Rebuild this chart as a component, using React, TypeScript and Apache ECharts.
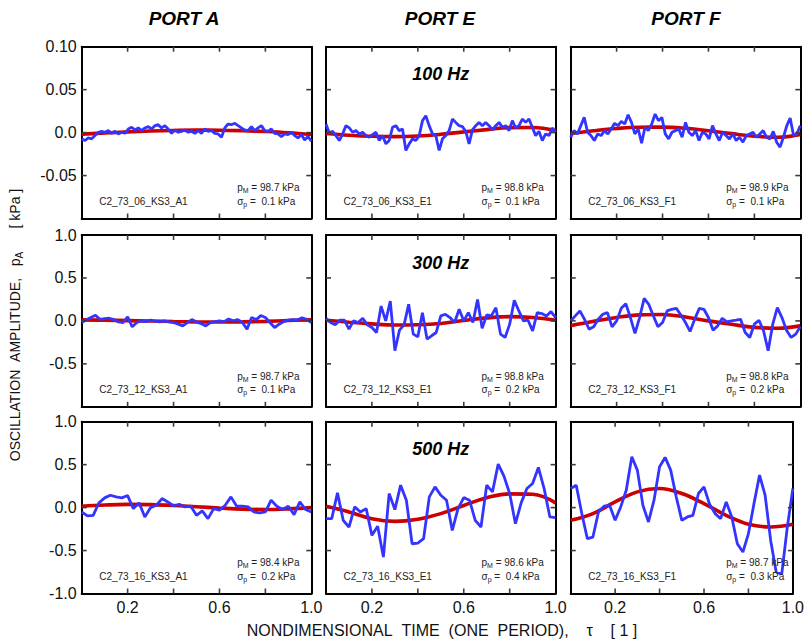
import React, { useEffect, useRef } from "react";
import * as echarts from "echarts";

// ---------------- text content ----------------
const portTitles = ["PORT A", "PORT E", "PORT F"];
const frequencyLabels = ["100 Hz", "300 Hz", "500 Hz"];
const runIdsRow1 = ["C2_73_06_KS3_A1", "C2_73_06_KS3_E1", "C2_73_06_KS3_F1"];
const runIdsRow2 = ["C2_73_12_KS3_A1", "C2_73_12_KS3_E1", "C2_73_12_KS3_F1"];
const runIdsRow3 = ["C2_73_16_KS3_A1", "C2_73_16_KS3_E1", "C2_73_16_KS3_F1"];
const meanPressureRow1 = ["98.7", "98.8", "98.9"];
const meanPressureRow2 = ["98.7", "98.8", "98.8"];
const meanPressureRow3 = ["98.4", "98.6", "98.7"];
const sigmaRow1 = ["0.1", "0.1", "0.1"];
const sigmaRow2 = ["0.1", "0.2", "0.2"];
const sigmaRow3 = ["0.2", "0.4", "0.3"];

// ---------------- tick labels and tick positions ----------------
const xTickValues = [0.2, 0.6, 1.0];
const xTickLabels = ["0.2", "0.6", "1.0"];
const xTickMarks = [0.2, 0.4, 0.6, 0.8];
const yTickValuesRow1 = [-0.05, 0, 0.05, 0.1];
const yTickLabelsRow1 = ["-0.05", "0.0", "0.05", "0.10"];
const yTickValuesRow2 = [-0.5, 0, 0.5, 1.0];
const yTickLabelsRow2 = ["-0.5", "0.0", "0.5", "1.0"];
const yTickValuesRow3 = [-1.0, -0.5, 0, 0.5, 1.0];
const yTickLabelsRow3 = ["-1.0", "-0.5", "0.0", "0.5", "1.0"];
const yTickMarksRow1 = [-0.05, 0, 0.05];
const yTickMarksRow23 = [-0.5, 0, 0.5];

// ---------------- measured signals (blue), kPa, uniform in tau over [0,1] ----------------
const blueA1 = [-0.0073,-0.0092,-0.0062,-0.0073,-0.0035,0.0004,0.0015,0.0004,0.0023,-0.0008,
0.0015,-0.0015,0.0004,-0.0008,0.0042,0.0062,0.0031,0.0054,0.0023,0.0054,
0.0069,0.0042,0.0081,0.0092,0.0054,0.0081,0.0042,-0.0008,0.0031,0.0004,
0.0015,0.0031,0.0004,0.0015,-0.0008,0.0023,-0.0008,0.0042,0.0015,0.0023,
-0.0008,-0.0015,-0.0054,0.0054,0.0100,0.0092,0.0108,0.0081,0.0054,0.0031,
0.0023,0.0069,0.0023,0.0054,0.0081,0.0023,0.0015,0.0042,-0.0008,-0.0015,
-0.0046,-0.0015,-0.0023,0.0004,-0.0035,-0.0062,-0.0023,-0.0085,-0.0046,-0.0100];
const blueE1 = [0.0100,-0.0008,0.0015,-0.0035,-0.0092,-0.0015,0.0081,0.0054,0.0004,0.0023,
-0.0015,0.0004,-0.0035,-0.0054,-0.0023,0.0004,-0.0092,-0.0035,-0.0131,-0.0092,
0.0062,0.0081,0.0023,0.0042,-0.0208,-0.0131,-0.0073,-0.0092,-0.0035,0.0139,
0.0196,0.0081,-0.0015,-0.0035,-0.0208,-0.0073,-0.0035,0.0023,0.0158,0.0119,
0.0081,0.0069,0.0015,-0.0131,0.0031,0.0081,0.0119,0.0081,0.0119,0.0081,
0.0031,0.0081,0.0119,0.0062,0.0081,0.0023,0.0139,0.0054,0.0081,0.0158,
0.0119,0.0158,0.0062,-0.0035,0.0015,-0.0092,-0.0015,-0.0035,0.0054,0.0004];
const blueF1 = [-0.0054,0.0023,-0.0015,0.0081,0.0177,0.0004,-0.0035,-0.0092,-0.0015,-0.0035,
0.0023,-0.0015,0.0042,0.0108,0.0081,0.0131,0.0100,0.0208,0.0119,-0.0015,
0.0042,-0.0123,0.0062,0.0023,0.0100,0.0216,0.0139,0.0177,-0.0015,-0.0073,
0.0004,0.0023,0.0042,-0.0054,0.0119,0.0004,-0.0035,0.0023,-0.0092,0.0004,
-0.0015,-0.0073,0.0081,-0.0015,-0.0092,0.0004,-0.0035,-0.0073,-0.0015,-0.0092,
-0.0054,-0.0112,-0.0035,-0.0015,0.0004,-0.0054,-0.0015,0.0023,-0.0054,-0.0073,
0.0015,-0.0112,-0.0169,-0.0054,0.0081,0.0169,-0.0035,-0.0015,0.0081];
const blueA2 = [-0.019,0.012,0.039,0.065,0.019,0.027,0.031,0.015,-0.012,-0.019,
0.046,-0.069,-0.019,0,-0.008,0.008,-0.004,-0.012,0,-0.012,
-0.019,-0.038,-0.058,-0.019,0.015,-0.012,-0.031,-0.058,-0.019,-0.008,
0,-0.008,0.023,0,0.015,-0.019,-0.096,0.039,0.015,0.062,
0.039,-0.019,-0.077,-0.038,-0.008,0.008,0.015,0.012,0.035,0.019,
-0.019];
const blueE2 = [0.031,-0.019,-0.046,0.008,0.008,-0.096,0,-0.019,0.031,-0.046,
-0.077,-0.135,0.173,0,0.231,-0.347,-0.108,-0.046,0.193,-0.154,
-0.185,0.096,-0.212,-0.173,-0.135,0.058,0.077,0.039,-0.019,0.135,
0,0.096,-0.019,0.25,-0.085,0.069,0.058,0.154,-0.154,-0.193,
-0.038,0.239,0.116,0,0.008,-0.116,0.096,0.085,0.058,0.108,
0.039];
const blueF2 = [0,0.058,0.116,0.019,-0.096,-0.069,0.019,0.077,0.096,-0.069,
0,0.146,0.2,0.039,-0.146,0.039,0.262,0.193,0.058,-0.069,
-0.019,0.116,0.135,0.146,0.069,-0.019,-0.123,0.019,0.146,0.135,
0.039,-0.108,-0.058,0.031,-0.012,0,0.008,0.019,-0.135,-0.193,
-0.038,0.008,-0.116,-0.347,-0.038,0.154,0.039,-0.108,-0.193,-0.154,
-0.069];
const blueA3 = [-0.051,-0.097,-0.09,0.055,0.113,0.144,0.125,0.113,0.14,-0.012,
0.055,-0.109,0,0.027,0.105,0.066,0.019,0.039,0.008,0.016,
-0.09,-0.039,-0.128,-0.012,-0.031,0.027,0.125,0.016,0.016,0.008,
-0.051,-0.062,-0.051,0.086,0.016,-0.023,0.016,-0.082,0.066,-0.023,
-0.051];
const blueE3 = [-0.128,-0.128,0.171,-0.148,-0.226,0.008,-0.051,-0.012,-0.323,-0.218,
-0.576,0.164,-0.023,0.261,0.086,-0.421,-0.413,-0.362,0.125,0.241,
0.144,0.086,-0.265,-0.012,0.117,0.086,-0.148,-0.226,0.261,0.183,
0.506,0.366,0.164,-0.187,0.055,0.222,0.28,0.467,0.222,-0.109,
-0.117];
const blueF3 = [0.222,0.261,-0.07,-0.362,-0.343,-0.051,0.016,0.027,-0.148,0.008,
0.202,0.592,0.436,0.027,-0.167,0.086,0.475,0.584,0.436,0.125,
-0.148,-0.109,-0.09,0.164,0.241,0.039,-0.07,-0.128,0.066,-0.109,
-0.421,-0.518,-0.304,0.047,0.378,0.144,-0.382,-0.752,-0.771,-0.226,
0.222];

// ---------------- first-harmonic fits (red), kPa, at tau = 0, 0.1, ..., 1 ----------------
const redA1 = [-0.0018,-0.0005,0.0008,0.0018,0.0025,0.0029,0.0028,0.0022,0.0012,-0.0002,-0.0022];
const redE1 = [-0.001,-0.003,-0.0043,-0.0047,-0.004,-0.002,0.0008,0.0035,0.0058,0.006,0.0025];
const redF1 = [-0.001,0.0022,0.0048,0.0063,0.0064,0.005,0.0022,-0.0012,-0.0042,-0.0055,-0.0022];
const redA2 = [0.012,0.008,0.003,-0.002,-0.007,-0.011,-0.013,-0.011,-0.005,0.004,0.012];
const redE2 = [0.008,-0.015,-0.035,-0.048,-0.045,-0.03,0.005,0.035,0.05,0.04,0.008];
const redF2 = [-0.055,-0.005,0.04,0.07,0.075,0.045,0.0,-0.04,-0.075,-0.085,-0.058];
const redA3 = [0.015,0.03,0.038,0.035,0.025,0.01,-0.005,-0.018,-0.022,-0.015,0.0];
const redE3 = [0.015,-0.05,-0.13,-0.16,-0.135,-0.07,0.025,0.115,0.16,0.155,0.055];
const redF3 = [-0.148,-0.07,0.066,0.183,0.222,0.164,0.047,-0.09,-0.195,-0.226,-0.195];

// ---------------- assembled tables ----------------
const blueRows = [[blueA1, blueE1, blueF1], [blueA2, blueE2, blueF2], [blueA3, blueE3, blueF3]];
const redRows = [[redA1, redE1, redF1], [redA2, redE2, redF2], [redA3, redE3, redF3]];
const runIdRows = [runIdsRow1, runIdsRow2, runIdsRow3];
const meanRows = [meanPressureRow1, meanPressureRow2, meanPressureRow3];
const sigmaRows = [sigmaRow1, sigmaRow2, sigmaRow3];
const yTickTables = [
  { values: yTickValuesRow1, labels: yTickLabelsRow1, marks: yTickMarksRow1, min: -0.1, max: 0.1, interval: 0.05 },
  { values: yTickValuesRow2, labels: yTickLabelsRow2, marks: yTickMarksRow23, min: -1, max: 1, interval: 0.5 },
  { values: yTickValuesRow3, labels: yTickLabelsRow3, marks: yTickMarksRow23, min: -1, max: 1, interval: 0.5 },
];

// ---------------- layout ----------------
const COL_LEFT = [81.7, 326, 570.7];
const PANEL_W = 229.6;
const ROW_TOP = [46.7, 235, 421.7];
const PANEL_H = 171.8;
const TITLE_X = [184, 440, 686];
const FONT = '"Liberation Sans", Arial, Helvetica, sans-serif';
const RED = "#cc0000";
const BLUE = "#3434ff";
const TICK_COLOR = "#3c3c3c";
const TICK_LEN = 5;
const NB = "\u00a0";

function lookupLabel(values: number[], labels: string[], v: number) {
  const i = values.findIndex((t) => Math.abs(t - v) < 1e-9);
  return i >= 0 ? labels[i] : "";
}

function buildOption() {
  const grid: any[] = [];
  const xAxis: any[] = [];
  const yAxis: any[] = [];
  const series: any[] = [];
  const graphic: any[] = [];

  const mkLine = () => ({ show: true, onZero: false, lineStyle: { color: "#000", width: 2 } });

  for (let r = 0; r < 3; r++) {
    const yt = yTickTables[r];
    for (let c = 0; c < 3; c++) {
      const k = r * 3 + c;
      const left = COL_LEFT[c];
      const top = ROW_TOP[r];
      grid.push({ left, top, width: PANEL_W, height: PANEL_H, show: false });
      const xBase = () => ({
        gridIndex: k, type: "value", min: 0, max: 1, interval: 0.2,
        axisLine: mkLine(), axisTick: { show: false }, splitLine: { show: false },
      });
      xAxis.push({
        ...xBase(), position: "bottom",
        axisLabel: {
          show: r === 2, margin: 6, fontSize: 16, fontFamily: FONT, color: "#111",
          formatter: (v: number) => lookupLabel(xTickValues, xTickLabels, v),
        },
      });
      xAxis.push({ ...xBase(), position: "top", axisLabel: { show: false } });
      const yBase = () => ({
        gridIndex: k, type: "value", min: yt.min, max: yt.max, interval: yt.interval,
        axisLine: mkLine(), axisTick: { show: false }, splitLine: { show: false },
      });
      yAxis.push({
        ...yBase(), position: "left",
        axisLabel: {
          show: c === 0, margin: 5, fontSize: 16, fontFamily: FONT, color: "#111",
          formatter: (v: number) => lookupLabel(yt.values, yt.labels, v),
        },
      });
      yAxis.push({ ...yBase(), position: "right", axisLabel: { show: false } });

      const red = redRows[r][c];
      const blue = blueRows[r][c];
      series.push({
        type: "line", xAxisIndex: 2 * k, yAxisIndex: 2 * k,
        data: red.map((v, i) => [i / (red.length - 1), v]),
        smooth: 0.4, symbol: "none", silent: true, z: 2,
        lineStyle: { color: RED, width: 3.6 },
      });
      series.push({
        type: "line", xAxisIndex: 2 * k, yAxisIndex: 2 * k,
        data: blue.map((v, i) => [i / (blue.length - 1), v]),
        symbol: "none", silent: true, z: 3,
        lineStyle: { color: BLUE, width: 2.8 },
      });

      // inward tick marks on all four sides, placed through the panel's own axes
      const tickData = [
        ...xTickMarks.map((v) => [v, yt.min, 0]),
        ...yt.marks.map((v) => [0, v, 1]),
      ];
      const yMin = yt.min;
      const yMax = yt.max;
      series.push({
        type: "custom", xAxisIndex: 2 * k, yAxisIndex: 2 * k,
        data: tickData, encode: { x: 0, y: 1 }, silent: true, z: 10, clip: false,
        renderItem: (_p: any, api: any) => {
          const kind = api.value(2);
          const style = { stroke: TICK_COLOR, lineWidth: 1.6, fill: null };
          if (kind === 0) {
            const v = api.value(0);
            const b = api.coord([v, yMin]);
            const t = api.coord([v, yMax]);
            return {
              type: "group",
              children: [
                { type: "line", shape: { x1: b[0], y1: b[1], x2: b[0], y2: b[1] - TICK_LEN }, style },
                { type: "line", shape: { x1: t[0], y1: t[1], x2: t[0], y2: t[1] + TICK_LEN }, style },
              ],
            };
          }
          const v = api.value(1);
          const lp = api.coord([0, v]);
          const rp = api.coord([1, v]);
          return {
            type: "group",
            children: [
              { type: "line", shape: { x1: lp[0], y1: lp[1], x2: lp[0] + TICK_LEN, y2: lp[1] }, style },
              { type: "line", shape: { x1: rp[0], y1: rp[1], x2: rp[0] - TICK_LEN, y2: rp[1] }, style },
            ],
          };
        },
      });

      // annotations
      const annRich = {
        n: { fontSize: 10, fontFamily: FONT, fill: "#222", lineHeight: 13 },
        s: { fontSize: 7, fontFamily: FONT, fill: "#222", verticalAlign: "bottom" },
      };
      graphic.push({
        type: "text", x: left + 17.5, y: top + 154.8, z: 100,
        style: { text: runIdRows[r][c], fontSize: 10, fontFamily: FONT, fill: "#222", textAlign: "left", textVerticalAlign: "middle" },
      });
      graphic.push({
        type: "text", x: left + 155.5, y: top + 141, z: 100,
        style: {
          text: `{n|p}{s|M}{n| = ${meanRows[r][c]} kPa}`,
          rich: annRich, textAlign: "left", textVerticalAlign: "middle",
        },
      });
      graphic.push({
        type: "text", x: left + 155.5, y: top + 154.8, z: 100,
        style: {
          text: `{n|σ}{s|p}{n| =${NB}${NB}${sigmaRows[r][c]} kPa}`,
          rich: annRich, textAlign: "left", textVerticalAlign: "middle",
        },
      });
    }
    // frequency label in middle column
    graphic.push({
      type: "text", x: COL_LEFT[1] + PANEL_W / 2, y: ROW_TOP[r] + 27.5, z: 100,
      style: {
        text: frequencyLabels[r], fontSize: 18, fontWeight: "bold", fontStyle: "italic",
        fontFamily: FONT, fill: "#000", textAlign: "center", textVerticalAlign: "middle",
      },
    });
  }

  // column titles
  for (let c = 0; c < 3; c++) {
    graphic.push({
      type: "text", x: TITLE_X[c], y: 18,
      style: {
        text: portTitles[c], fontSize: 19, fontWeight: "bold", fontStyle: "italic",
        fontFamily: FONT, fill: "#000", textAlign: "center", textVerticalAlign: "middle",
      },
    });
  }

  // axis titles
  graphic.push({
    type: "text", x: 442, y: 630,
    style: {
      text: `NONDIMENSIONAL${NB}${NB}TIME${NB}${NB}(ONE${NB}${NB}PERIOD),${NB}${NB}${NB}${NB}τ${NB}${NB}${NB}${NB}[${NB}1${NB}]`,
      fontSize: 16, fontFamily: FONT, fill: "#111", textAlign: "center", textVerticalAlign: "middle",
    },
  });
  graphic.push({
    type: "text", x: 15, y: 325, rotation: Math.PI / 2,
    style: {
      text: `{n|OSCILLATION${NB}${NB}AMPLITUDE,${NB}${NB}${NB}p}{s|A}{n|${NB}${NB}${NB}${NB}${NB}${NB}[${NB}kPa${NB}]}`,
      rich: {
        n: { fontSize: 14, fontFamily: FONT, fill: "#111", lineHeight: 18 },
        s: { fontSize: 10, fontFamily: FONT, fill: "#111", verticalAlign: "bottom" },
      },
      textAlign: "center", textVerticalAlign: "middle",
    },
  });

  return {
    animation: false,
    backgroundColor: "#fff",
    grid, xAxis, yAxis, series, graphic,
  };
}

export default function App() {
  const ref = useRef<HTMLDivElement>(null);
  useEffect(() => {
    if (!ref.current) return;
    const chart = echarts.init(ref.current, null, { renderer: "svg" });
    chart.setOption(buildOption() as any);
    return () => chart.dispose();
  }, []);
  return (
    <div
      ref={ref}
      style={{ position: "absolute", left: 0, top: 0, width: 807, height: 642, background: "#fff" }}
    />
  );
}
